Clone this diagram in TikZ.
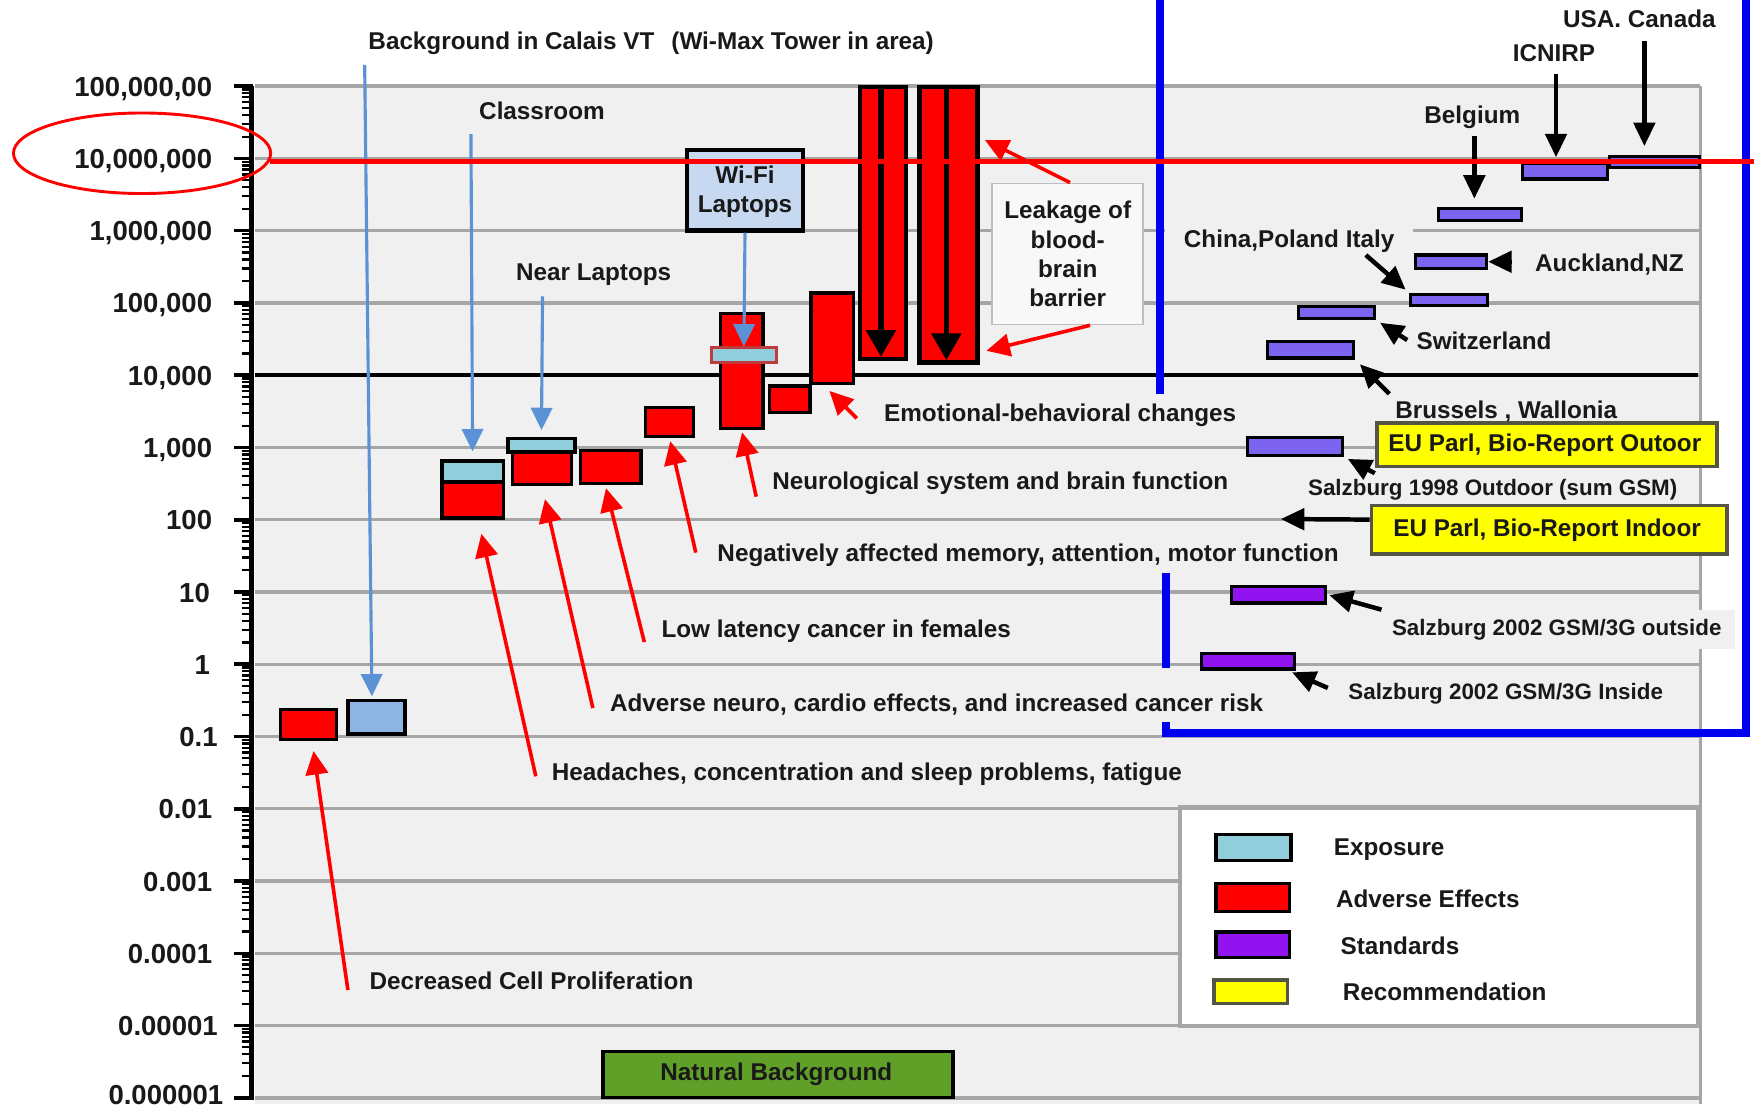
\documentclass[tikz,border=0pt]{standalone}
\usepackage{fontspec}
\setmainfont{Liberation Sans}
\usetikzlibrary{arrows.meta,fit,calc}
\definecolor{plotbg}{RGB}{240,240,240}
\definecolor{gridc}{RGB}{166,166,166}
\definecolor{expo}{RGB}{146,205,220}
\definecolor{calb}{RGB}{142,180,227}
\definecolor{wifib}{RGB}{198,217,241}
\definecolor{arrb}{RGB}{91,145,213}
\definecolor{stdup}{RGB}{125,100,240}
\definecolor{stdlo}{RGB}{145,20,240}
\definecolor{recy}{RGB}{255,255,0}
\definecolor{recb}{RGB}{85,85,70}
\definecolor{natg}{RGB}{96,160,40}
\definecolor{frameb}{RGB}{0,0,240}
\definecolor{leakbg}{RGB}{248,248,248}
\definecolor{leakbd}{RGB}{190,190,190}
\definecolor{wfxbd}{RGB}{192,60,60}
\definecolor{txtc}{RGB}{25,25,25}
\newcommand\lblfont{\fontsize{10.85}{13}\selectfont\bfseries}
\newcommand\axfont{\fontsize{12.3}{14}\selectfont\bfseries}
\newcommand\smfont{\fontsize{10}{12}\selectfont\bfseries}
\begin{document}
\begin{tikzpicture}[x=0.5pt,y=-0.5pt,
  lbl/.style={font=\lblfont,text=txtc,anchor=base west,inner sep=0pt},
  axl/.style={font=\axfont,text=txtc,anchor=base east,inner sep=0pt},
  sml/.style={font=\smfont,text=txtc,anchor=base west,inner sep=0pt},
  boxf/.style={inner sep=0pt,draw=black,line width=1.5pt},
  redbox/.style={boxf,fill=red},
  expbox/.style={boxf,fill=expo},
  stdbox/.style={boxf,fill=stdup,line width=1.4pt},
  stdboxb/.style={boxf,fill=stdlo,line width=1.4pt},
  recbox/.style={inner sep=0pt,fill=recy,draw=recb,line width=1.6pt},
  redarr/.style={draw=red,line width=1.6pt,-{Triangle[length=10.5pt,width=10pt]}},
  bluarr/.style={draw=arrb,line width=1.4pt,-{Triangle[length=10pt,width=9.5pt]}},
  blkarr/.style={draw=black,line width=2pt,-{Triangle[length=10.5pt,width=9.5pt]}},
  bararr/.style={draw=black,line width=2.5pt,-{Triangle[length=12pt,width=13pt]}},
  gridl/.style={draw=gridc,line width=1.5pt},
  frame/.style={draw=frameb,line width=3.5pt}
]
\useasboundingbox (0,0) rectangle (1568,991);
\fill[white] (0,0) rectangle (1568,991);
% plot area
\fill[plotbg] (228,77) rectangle (1520,987);
\foreach \k in {-6,...,8} {\draw[gridl] (228,{77+(8-\k)*64.6}) -- (1520,{77+(8-\k)*64.6});}
\draw[black,line width=1.8pt] (228,{77+4*64.6}) -- (1518,{77+4*64.6});
\draw[gridl] (1520,77) -- (1520,987);
% axis
\draw[line width=2pt] (225,77) -- (225,983);
\foreach \k in {-6,...,8} {\draw[line width=1.6pt] (209,{77+(8-\k)*64.6}) -- (226,{77+(8-\k)*64.6});}
\foreach \k in {-6,...,7} {\foreach \m in {2,...,9} {\draw[line width=1pt] (216,{77+(8-\k)*64.6-64.6*log10(\m)}) -- (226,{77+(8-\k)*64.6-64.6*log10(\m)});}}
\node[axl] (y8) at (190,{77+0*64.6+9}) {100,000,00};
\node[axl] (y7) at (190,{77+1*64.6+9}) {10,000,000};
\node[axl] (y6) at (190,{77+2*64.6+9}) {1,000,000};
\node[axl] (y5) at (190,{77+3*64.6+9}) {100,000};
\node[axl] (y4) at (190,{77+4*64.6+9}) {10,000};
\node[axl] (y3) at (190,{77+5*64.6+9}) {1,000};
\node[axl] (y2) at (190,{77+6*64.6+9}) {100};
\node[axl] (y1) at (188,{77+7*64.6+9}) {10};
\node[axl] (y0) at (188,{77+8*64.6+9}) {1};
\node[axl] (ym1) at (195,{77+9*64.6+9}) {0.1};
\node[axl] (ym2) at (190,{77+10*64.6+9}) {0.01};
\node[axl] (ym3) at (190,{77+11*64.6+9}) {0.001};
\node[axl] (ym4) at (190,{77+12*64.6+9}) {0.0001};
\node[axl] (ym5) at (195,{77+13*64.6+9}) {0.00001};
\node[axl] (ym6) at (200,987) {0.000001};
% legend
\node[fit={(1055,722) (1518,917)},inner sep=0pt,fill=white,draw=gridc,line width=2pt] (leg) {};
\node[expbox,fit={(1087,746) (1154,769)}] (sw1) {};
\node[redbox,fit={(1087,790) (1153,815)}] (sw2) {};
\node[boxf,fill=stdlo,fit={(1087,833) (1153,856)}] (sw3) {};
\node[recbox,fit={(1085,876) (1151,897)}] (sw4) {};
\node[lbl] (lexp) at (1192,765) {Exposure};
\node[lbl] (ladv) at (1194,811) {Adverse Effects};
\node[lbl] (lstd) at (1198,853) {Standards};
\node[lbl] (lrec) at (1200,894) {Recommendation};
% natural background
\node[fit={(539,940) (852,981)},inner sep=0pt,fill=natg,draw=black,line width=1.5pt] (nat) {};
\node[font=\lblfont,text=txtc,inner sep=0pt] (nattxt) at (694,960) {Natural Background};
% blue frame
\draw[frame] (1037,0) -- (1037,352);
\draw[frame] (1042,512) -- (1042,597);
\draw[frame] (1042,645) -- (1042,655) -- (1561,655) -- (1561,0);
% labels
\node[lbl] (tcal) at (329,44) {Background in Calais VT\hspace{0.7em}(Wi-Max Tower in area)};
\node[lbl] (tcls) at (428,107) {Classroom};
\node[lbl] (tnear) at (461,251) {Near Laptops};
\node[lbl] (temo) at (790,377) {Emotional-behavioral changes};
\node[lbl] (tneu) at (690,438) {Neurological system and brain function};
\node[lbl] (tneg) at (641,502) {Negatively affected memory, attention, motor function};
\node[lbl] (tllc) at (591,570) {Low latency cancer in females};
\node[lbl] (tadv) at (545,636) {Adverse neuro, cardio effects, and increased cancer risk};
\node[lbl] (thead) at (493,698) {Headaches, concentration and sleep problems, fatigue};
\node[lbl] (tdcp) at (330,885) {Decreased Cell Proliferation};
\node[lbl] (tusa) at (1397,25) {USA. Canada};
\node[lbl] (ticn) at (1352,55) {ICNIRP};
\node[lbl] (tbel) at (1273,110) {Belgium};
\node[lbl,fill=plotbg,inner xsep=8.5pt,inner ysep=2.5pt] (tchi) at (1041,221) {China,Poland Italy};
\node[lbl] (tauk) at (1372,243) {Auckland,NZ};
\node[lbl] (tswi) at (1266,312) {Switzerland};
\node[lbl] (tbru) at (1247,374) {Brussels , Wallonia};
\node[sml] (ts98) at (1169,443) {Salzburg 1998 Outdoor (sum GSM)};
\node[sml,fill=plotbg,inner xsep=6pt,inner ysep=4pt] (tsout) at (1232,568) {Salzburg 2002 GSM/3G outside};
\node[sml] (tsin) at (1205,625) {Salzburg 2002 GSM/3G Inside};
% leakage box
\node[fit={(887,164) (1022,290)},inner sep=0pt,fill=leakbg,draw=leakbd,line width=0.8pt] (leak) {};
\node[font=\lblfont,text=txtc,align=center,inner sep=0pt] (leaktxt) at (954.5,227) {Leakage of\\blood-\\brain\\barrier};
% wifi box
\node[fit={(614,134) (718,206)},inner sep=0pt,fill=wifib,draw=black,line width=2pt] (wifi) {};
\node[font=\lblfont,text=txtc,align=center,inner sep=0pt] (wifitxt) at (666,171.5) {Wi-Fi\\Laptops};
% recommendation boxes
\node[recbox,fit={(1231,378) (1535,417)}] (outb) {};
\node[font=\lblfont,text=txtc,inner sep=0pt] (outtxt) at (1381,398) {EU Parl, Bio-Report Outoor};
\node[recbox,fit={(1226,452) (1544,495)}] (indb) {};
\node[font=\lblfont,text=txtc,inner sep=0pt] (indtxt) at (1383,474) {EU Parl, Bio-Report Indoor};
% effect / exposure boxes
\node[redbox,fit={(251,634) (301,661)}] (dcp) {};
\node[boxf,fill=calb,fit={(311,626) (362,656)}] (cal) {};
\node[redbox,fit={(395,431) (450,463)}] (clsr) {};
\node[expbox,fit={(395,412) (450,431)}] (clsx) {};
\node[redbox,fit={(458,404) (511,433)}] (nlr) {};
\node[expbox,fit={(454,392) (514,404)}] (nlx) {};
\node[redbox,fit={(519,403) (573,432)}] (llc) {};
\node[redbox,fit={(577,364) (620,390)}] (neg) {};
\node[redbox,fit={(644,280) (682,383)}] (neu) {};
\node[inner sep=0pt,fill=expo,draw=wfxbd,line width=1.3pt,fit={(636,311) (694,324)}] (wfx) {};
\node[redbox,fit={(688,345) (724,369)}] (emo2) {};
\node[redbox,fit={(725,262) (763,343)}] (emo) {};
\node[redbox,line width=2pt,fit={(769,78) (810,321)}] (bar1) {};
\node[redbox,line width=2pt,fit={(822,78) (874,324)}] (bar2) {};
% standards
\node[stdbox,fit={(1439,140) (1519,150)}] (usa) {};
\node[stdbox,fit={(1361,146) (1437,160)}] (icn) {};
\node[stdbox,fit={(1286,186) (1360,197)}] (bel) {};
\node[stdbox,fit={(1265,228) (1329,240)}] (auk) {};
\node[stdbox,fit={(1261,263) (1330,273)}] (chi) {};
\node[stdbox,fit={(1161,274) (1229,285)}] (swi) {};
\node[stdbox,fit={(1133,305) (1210,320)}] (bru) {};
\node[stdbox,fit={(1115,391) (1200,407)}] (s98) {};
\node[stdboxb,fit={(1101,524) (1185,539)}] (sout) {};
\node[stdboxb,fit={(1074,584) (1157,598)}] (sin) {};
% arrow tails
\coordinate (acal) at (326,58);
\coordinate (acls) at (421,120);
\coordinate (anear) at (485,265);
\coordinate (adcp) at (311,885);
\coordinate (ahead) at (479,694);
\coordinate (aadv) at (530,633);
\coordinate (allc) at (576,574);
\coordinate (aneg) at (622,494);
\coordinate (aneu) at (676,444);
\coordinate (aemo) at (766,374);
\coordinate (ausa) at (1470,37);
\coordinate (aicn) at (1391,66);
\coordinate (abel) at (1318,122);
\coordinate (aauk) at (1352,234);
\coordinate (achi) at (1221,228);
\coordinate (aswi) at (1258,304);
\coordinate (abru) at (1242,352);
\coordinate (as98) at (1229,423);
\coordinate (asout) at (1235,545);
\coordinate (asin) at (1187,615);
\coordinate (tipin) at (1145,464);
% blue arrows
\draw[bluarr,shorten >=1pt] (acal) -- ([xshift=-2pt]cal.north);
\draw[bluarr,shorten >=3.5pt] (acls) -- (clsx.north);
\draw[bluarr,shorten >=3pt] (anear) -- (nlx.north);
\draw[bluarr] (wifi.south) -- (wfx.north);
% red arrows
\draw[redarr,shorten >=4.5pt] (adcp) -- ([xshift=1.5pt]dcp.south);
\draw[redarr,shorten >=6.5pt] (ahead) -- ([xshift=2.5pt]clsr.south);
\draw[redarr,shorten >=6pt] (aadv) -- (nlr.south);
\draw[redarr,shorten >=1.5pt] (allc) -- ([xshift=-2.5pt]llc.south);
\draw[redarr,shorten >=1.5pt] (aneg) -- (neg.south);
\draw[redarr,shorten >=1pt] (aneu) -- (neu.south);
\draw[redarr,shorten >=3.5pt] (aemo) -- ([xshift=6.5pt]emo.south west);
\draw[redarr,shorten >=2.5pt] ([xshift=1pt]leak.north) -- ([yshift=-23.5pt]bar2.north east);
\draw[redarr,shorten >=3pt] ([xshift=10pt]leak.south) -- ([yshift=5.5pt]bar2.south east);
% arrows inside tall bars
\draw[bararr,shorten >=2pt] ([xshift=-1pt,yshift=-2pt]bar1.north) -- ([xshift=-1pt]bar1.south);
\draw[bararr,shorten >=2pt] ([xshift=-1pt,yshift=-2pt]bar2.north) -- ([xshift=-1pt]bar2.south);
% black arrows
\draw[blkarr,shorten >=4pt] (ausa) -- ([xshift=-4.5pt]usa.north);
\draw[blkarr,shorten >=2pt] (aicn) -- ([xshift=-4pt]icn.north);
\draw[blkarr,shorten >=3.5pt] (abel) -- ([xshift=-2.5pt]bel.north);
\draw[blkarr] (aauk) -- (auk.east);
\draw[blkarr,shorten >=2pt] (achi) -- (chi.north west);
\draw[blkarr,shorten >=2pt] (aswi) -- (swi.south east);
\draw[blkarr,shorten >=3pt] (abru) -- (bru.south east);
\draw[blkarr,shorten >=2pt] (as98) -- (s98.south east);
\draw[blkarr] ([yshift=4.5pt]indb.west) -- (tipin);
\draw[blkarr,shorten >=1pt] (asout) -- (sout.east);
\draw[blkarr,shorten >=2pt] (asin) -- ([xshift=-3.5pt]sin.south east);
% red threshold line and ellipse
\draw[red,line width=2.4pt] (241,144.5) -- (1568,144.5);
\draw[red,line width=1.3pt] (127,137) ellipse [x radius=115, y radius=36];
\end{tikzpicture}
\end{document}
